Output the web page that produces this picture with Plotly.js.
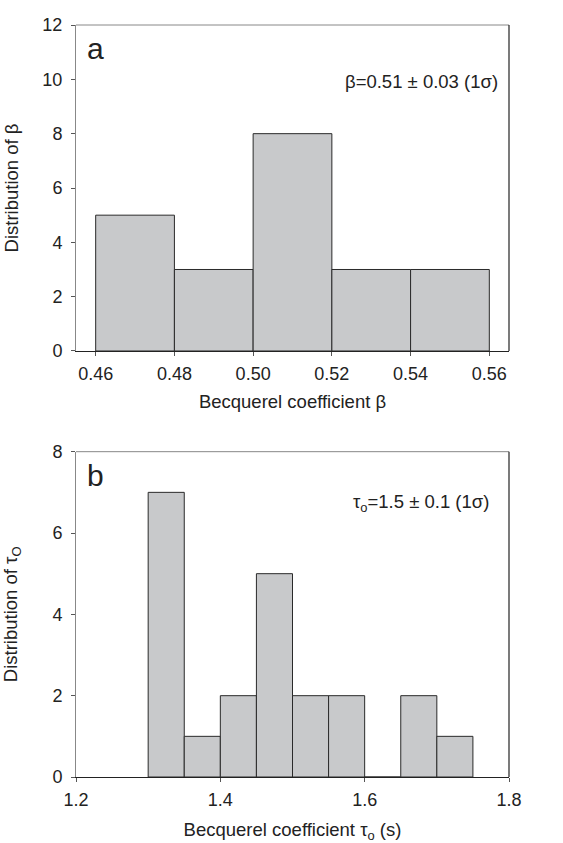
<!DOCTYPE html>
<html>
<head>
<meta charset="utf-8">
<script src="https://cdn.plot.ly/plotly-3.0.1.min.js"></script>
<style>html,body{margin:0;padding:0;background:#fff;}#chart{width:563px;height:843px;}</style>
</head>
<body>
<div id="chart"></div>
<script>
// Panel a: Becquerel coefficient beta histogram
var binStartA = [0.46, 0.48, 0.50, 0.52, 0.54];
var binWidthA = 0.02;
var countsA = [5, 3, 8, 3, 3];
var tickValsA = [0.46, 0.48, 0.50, 0.52, 0.54, 0.56];
var tickTextA = ["0.46", "0.48", "0.50", "0.52", "0.54", "0.56"];

// Panel b: Becquerel coefficient tau_o histogram
var binStartB = [1.30, 1.35, 1.40, 1.45, 1.50, 1.55, 1.60, 1.65, 1.70];
var binWidthB = 0.05;
var countsB = [7, 1, 2, 5, 2, 2, 0, 2, 1];
var tickValsB = [1.2, 1.4, 1.6, 1.8];
var tickTextB = ["1.2", "1.4", "1.6", "1.8"];

var FONT = "Liberation Sans, Arial, sans-serif";
var TXT = "#222";
var fill = "#c8c9cb";
var edge = "#2a2a2a";
var TS = 18.5;

function centers(starts, w) { return starts.map(function (s) { return s + w / 2; }); }

var traces = [
  {
    type: "bar", x: centers(binStartA, binWidthA), y: countsA,
    width: binStartA.map(function () { return binWidthA; }),
    marker: { color: fill, line: { color: edge, width: 1 } },
    xaxis: "x", yaxis: "y", hoverinfo: "x+y"
  },
  {
    type: "bar", x: centers(binStartB, binWidthB), y: countsB,
    width: binStartB.map(function () { return binWidthB; }),
    marker: { color: fill, line: { color: edge, width: 1 } },
    xaxis: "x2", yaxis: "y2", hoverinfo: "x+y"
  }
];

var axCommon = {
  showgrid: false, zeroline: false, showline: true, mirror: false,
  ticks: "outside", ticklen: 4, tickwidth: 1,
  tickfont: { family: FONT, size: 18, color: TXT }
};

function ax(extra) { return Object.assign({}, axCommon, extra); }

var layout = {
  width: 563, height: 843,
  margin: { l: 76, r: 54, t: 25, b: 66 },
  paper_bgcolor: "#fff", plot_bgcolor: "#fff",
  showlegend: false, bargap: 0,
  font: { family: FONT, color: TXT },
  xaxis: ax({
    domain: [0, 1], anchor: "y", range: [0.455, 0.565],
    tickvals: tickValsA, ticktext: tickTextA,
    linecolor: "#222", tickcolor: "#555", ticklabelstandoff: 2,
    title: { text: "Becquerel coefficient β", font: { family: FONT, size: TS, color: TXT }, standoff: 12 }
  }),
  yaxis: ax({
    domain: [0.5665, 1], anchor: "x", range: [0, 12],
    tickvals: [0, 2, 4, 6, 8, 10, 12],
    linecolor: "#888", tickcolor: "#555", ticklabelstandoff: 5,
    title: { text: "Distribution of β", font: { family: FONT, size: TS, color: TXT }, standoff: 18 }
  }),
  xaxis2: ax({
    domain: [0, 1], anchor: "y2", range: [1.2, 1.8],
    tickvals: tickValsB, ticktext: tickTextB,
    linecolor: "#222", tickcolor: "#555", ticklabelstandoff: 2,
    title: { text: "Becquerel coefficient τ<sub>o</sub> (s)", font: { family: FONT, size: TS, color: TXT }, standoff: 14 }
  }),
  yaxis2: ax({
    domain: [0, 0.4326], anchor: "x2", range: [0, 8],
    tickvals: [0, 2, 4, 6, 8],
    linecolor: "#888", tickcolor: "#555", ticklabelstandoff: 5,
    title: { text: "Distribution of τ<sub>O</sub>", font: { family: FONT, size: TS, color: TXT }, standoff: 32 }
  }),
  shapes: [
    { type: "line", xref: "x domain", yref: "y domain", x0: 0, x1: 1, y0: 1, y1: 1, line: { color: "#888", width: 1 } },
    { type: "line", xref: "x domain", yref: "y domain", x0: 1, x1: 1, y0: 0, y1: 1, line: { color: "#222", width: 1.2 } },
    { type: "line", xref: "x2 domain", yref: "y2 domain", x0: 0, x1: 1, y0: 1, y1: 1, line: { color: "#888", width: 1 } },
    { type: "line", xref: "x2 domain", yref: "y2 domain", x0: 1, x1: 1, y0: 0, y1: 1, line: { color: "#222", width: 1.2 } }
  ],
  annotations: [
    { text: "a", xref: "x domain", yref: "y domain", x: 0.02, y: 0.985, xanchor: "left", yanchor: "top", showarrow: false, font: { family: FONT, size: 30, color: TXT } },
    { text: "β=0.51 ± 0.03 (1σ)", xref: "x domain", yref: "y domain", x: 0.98, y: 0.828, xanchor: "right", yanchor: "middle", showarrow: false, font: { family: FONT, size: TS, color: TXT } },
    { text: "b", xref: "x2 domain", yref: "y2 domain", x: 0.02, y: 0.985, xanchor: "left", yanchor: "top", showarrow: false, font: { family: FONT, size: 30, color: TXT } },
    { text: "τ<sub>o</sub>=1.5 ± 0.1 (1σ)", xref: "x2 domain", yref: "y2 domain", x: 0.958, y: 0.842, xanchor: "right", yanchor: "middle", showarrow: false, font: { family: FONT, size: TS, color: TXT } }
  ]
};

Plotly.newPlot("chart", traces, layout, { staticPlot: true, displayModeBar: false });
</script>
</body>
</html>
